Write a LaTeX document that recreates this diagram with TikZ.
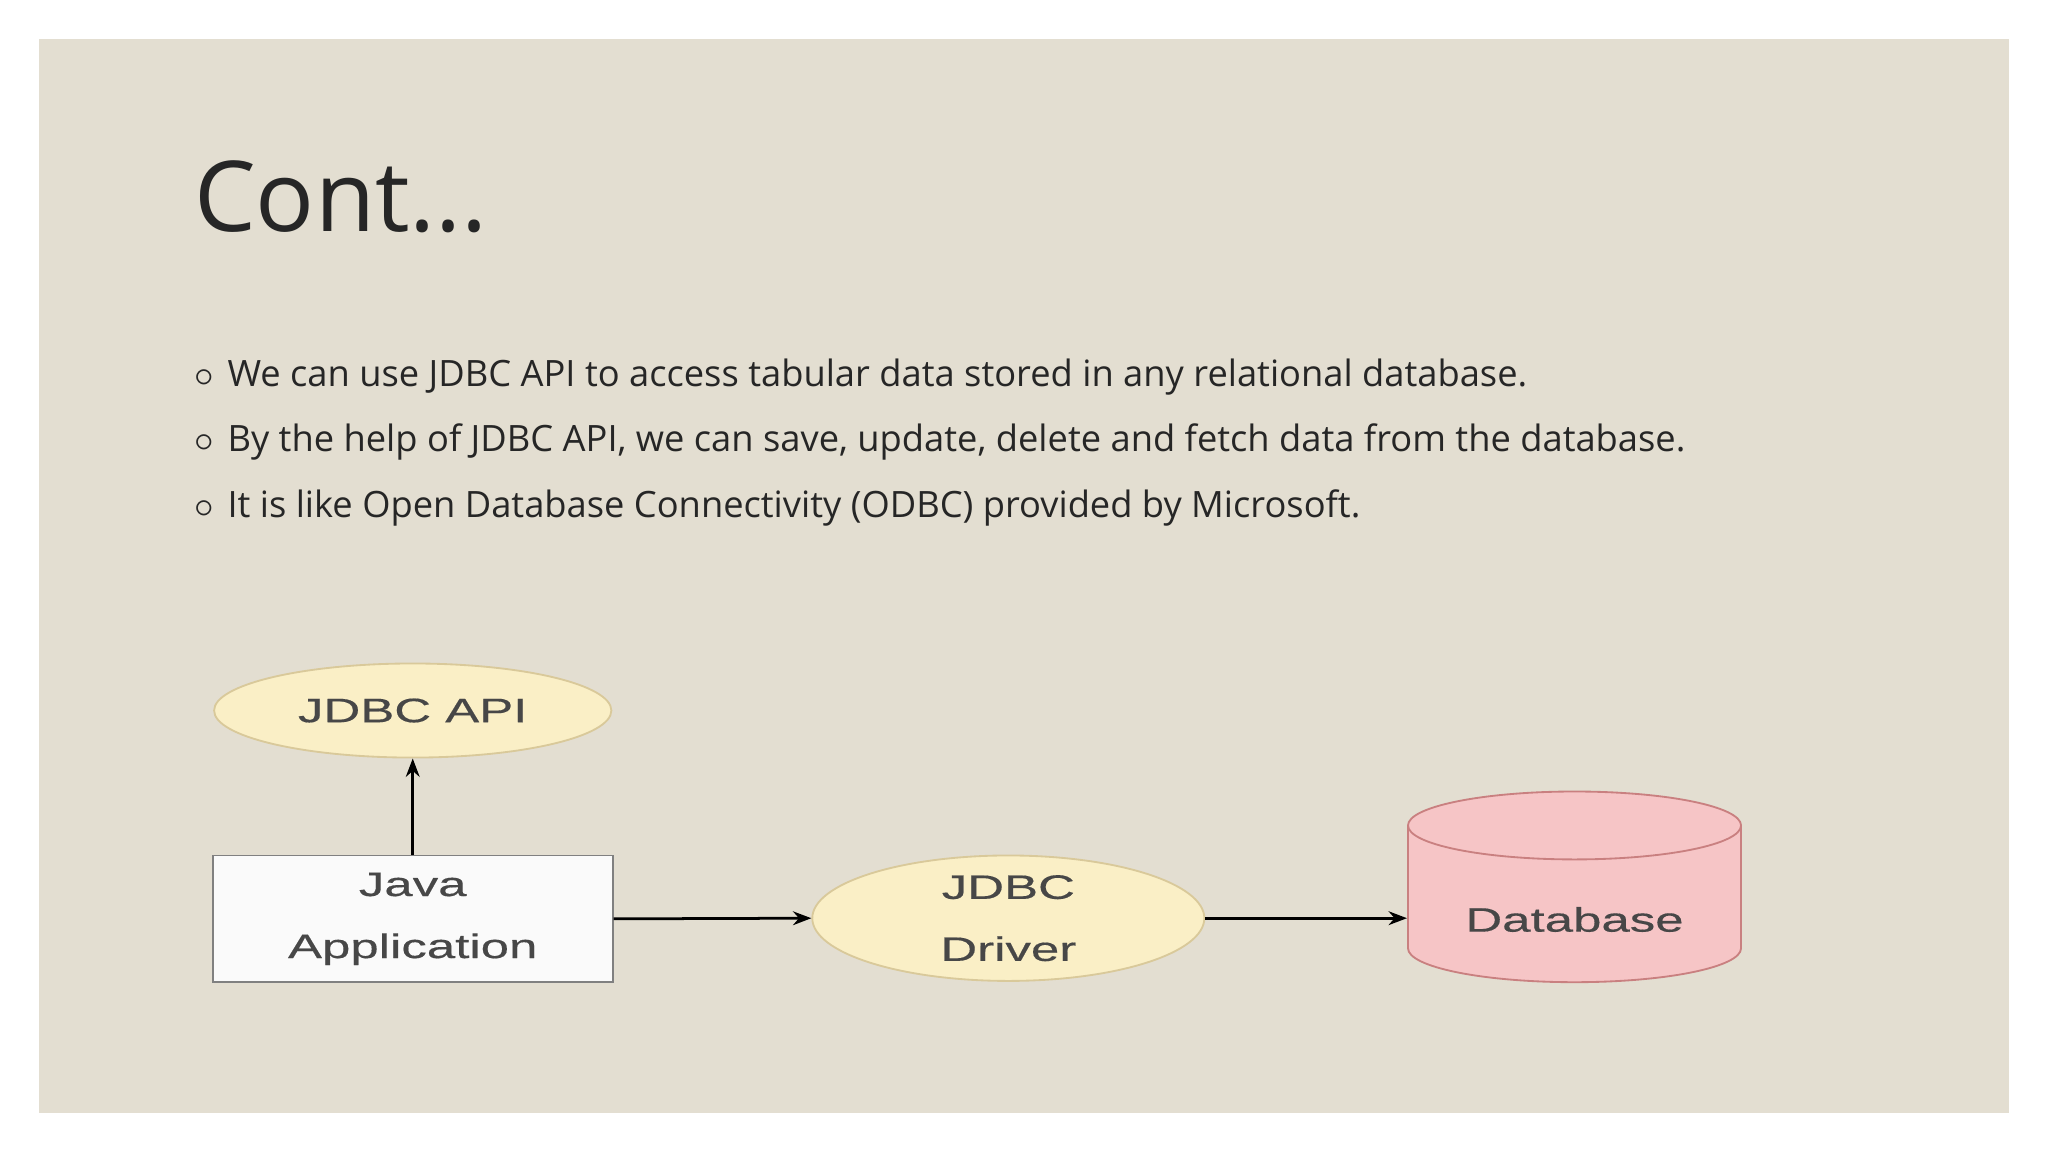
\documentclass[tikz,border=0pt]{standalone}
\usepackage{fontspec}
\setmainfont{Open Sans}
\newfontfamily\diag{Liberation Sans}[FakeStretch=1.5,FakeBold=0.4]
\usetikzlibrary{shapes.geometric,arrows.meta}
\definecolor{bg}{HTML}{E3DED1}
\definecolor{ink}{HTML}{262626}
\definecolor{ell}{HTML}{FAEFC6}
\definecolor{ellb}{HTML}{D9C99A}
\definecolor{pink}{HTML}{F6C5C6}
\definecolor{pinkb}{HTML}{C98080}
\begin{document}
\begin{tikzpicture}[x=0.01cm,y=-0.01cm,
  dtext/.style={font=\diag\fontsize{7.4}{9}\selectfont,text=ink!85},
  conn/.style={-{Stealth[length=4pt,width=3pt]},line width=0.6pt,black},
  bul/.style={anchor=base west,font=\fontsize{7.9}{10}\selectfont,text=ink,inner sep=0}]
\useasboundingbox (0,0) rectangle (1568,882);
\fill[white] (0,0) rectangle (1568,882);
\fill[bg] (30,30) rectangle (1538,852);
\node[anchor=base west,inner sep=0,font=\fontsize{21.3}{26}\selectfont,text=ink] (title) at (148,177) {Cont...};
\node[bul] (b1) at (148,296) {$\circ$\hspace{3pt}We can use JDBC API to access tabular data stored in any relational database.};
\node[bul] (b2) at (148,346) {$\circ$\hspace{3pt}By the help of JDBC API, we can save, update, delete and fetch data from the database.};
\node[bul] (b3) at (148,396) {$\circ$\hspace{3pt}It is like Open Database Connectivity (ODBC) provided by Microsoft.};
\node[ellipse,draw=ellb,fill=ell,minimum width=3.04cm,minimum height=0.72cm,inner sep=0,dtext] (api) at (316,544) {JDBC API};
\node[draw=gray,fill=white!96!gray,minimum width=3.06cm,minimum height=0.97cm,inner sep=0,dtext,align=center] (java) at (316,703.5) {Java\\[4.5pt]Application};
\node[ellipse,draw=ellb,fill=ell,minimum width=3.0cm,minimum height=0.96cm,inner sep=0,dtext,align=center] (drv) at (772,703) {JDBC\\[4.5pt]Driver};
\node[minimum width=2.55cm,minimum height=1.47cm,inner sep=0] (db) at (1205.5,679) {};
\draw[pinkb,fill=pink] (1078,632) -- (1078,726) arc[start angle=180,end angle=360,x radius=127.5,y radius=-26] -- (1333,632) arc[start angle=0,end angle=180,x radius=127.5,y radius=-26] -- cycle;
\draw[pinkb] (1078,632) arc[start angle=180,end angle=360,x radius=127.5,y radius=-26];
\node[dtext] (dbl) at (1205.5,704) {Database};
\draw[conn] (java.north) -- (api.south);
\draw[conn] (java.east) -- (drv.west);
\draw[conn] (drv.east) -- (db.west |- drv.east);
\end{tikzpicture}
\end{document}
